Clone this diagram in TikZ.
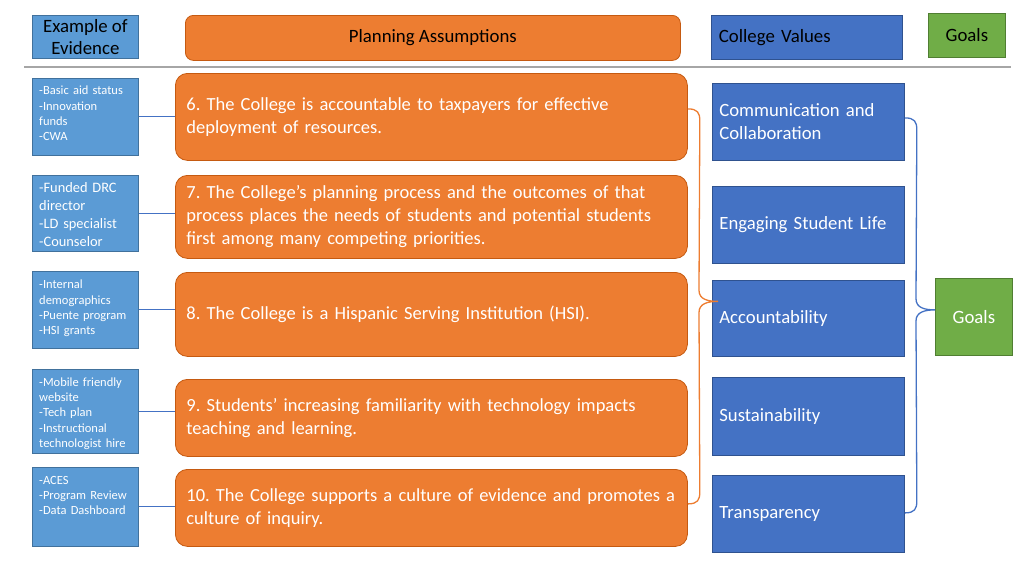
\documentclass[tikz,border=0pt]{standalone}
\usepackage{fontspec}
\setmainfont{Carlito}
\usetikzlibrary{calc}
\frenchspacing
\definecolor{evblue}{HTML}{5B9BD5}
\definecolor{evborder}{HTML}{41719C}
\definecolor{orfill}{HTML}{ED7D31}
\definecolor{orborder}{HTML}{C55A11}
\definecolor{vblue}{HTML}{4472C4}
\definecolor{vborder}{HTML}{2F528F}
\definecolor{gfill}{HTML}{70AD47}
\definecolor{gborder}{HTML}{507E32}
\definecolor{sepgray}{HTML}{A6A6A6}
\tikzset{
  evbox/.style={draw=evborder, fill=evblue, line width=0.8pt, anchor=north west, minimum width=106pt, inner sep=0pt},
  evtext/.style={anchor=north west, text=white, inner sep=0pt, align=left, text width=100pt, font=\fontsize{12.5}{15.3}\selectfont},
  evtextbig/.style={evtext, font=\fontsize{14.4}{18}\selectfont},
  orbox/.style={draw=orborder, fill=orfill, line width=0.8pt, rounded corners=12pt, anchor=north west, minimum width=512pt, text width=490pt, inner xsep=11pt, align=left, text=white, font=\fontsize{18.5}{23}\selectfont},
  valbox/.style={draw=vborder, fill=vblue, line width=0.8pt, anchor=north west, minimum width=192pt, minimum height=77pt, text width=178pt, inner xsep=7pt, align=left, text=white, font=\fontsize{18.7}{23}\selectfont},
  hdr/.style={line width=0.8pt, anchor=north west, text=black, font=\fontsize{18.8}{22}\selectfont},
  conn/.style={draw=vblue, line width=1.1pt},
  obrace/.style={draw=orfill, line width=1.3pt},
  bbrace/.style={draw=vblue, line width=1.3pt},
}
\begin{document}
\begin{tikzpicture}[x=1pt,y=-1pt]
\useasboundingbox (0,0) rectangle (1024,576);

% headers
\node[hdr, draw=evborder, fill=evblue, minimum width=106pt, minimum height=43pt, align=center, inner sep=0pt] (exh) at (32,15) {Example of\\Evidence};
\node[hdr, draw=orborder, fill=orfill, rounded corners=8pt, minimum width=495pt, minimum height=45pt] (pah) at (185,15) {\raisebox{-2pt}{Planning Assumptions}};
\node[hdr, draw=vborder, fill=vblue, minimum width=191pt, minimum height=44pt, text width=176pt, inner xsep=7.5pt, align=left] (cvh) at (711,15) {\raisebox{-2pt}{College Values}};
\node[hdr, draw=gborder, fill=gfill, minimum width=77pt, minimum height=44pt] (gh) at (928,13) {\raisebox{-1pt}{Goals}};

% separator
\coordinate (sepL) at (24,67);
\coordinate (sepR) at (1011,67);
\draw[sepgray, line width=1.4pt] (sepL) -- (sepR);

% evidence boxes
\node[evbox, minimum height=77pt] (ev1) at (32,78) {};
\node[evtext] (ev1t) at ($(ev1.north west)+(7,8)$) {-Basic aid status\\-Innovation\\funds\\-CWA};
\node[evbox, minimum height=76pt] (ev2) at (32,175) {};
\node[evtextbig] (ev2t) at ($(ev2.north west)+(7,7)$) {-Funded DRC\\director\\-LD specialist\\-Counselor};
\node[evbox, minimum height=77pt] (ev3) at (32,271) {};
\node[evtext] (ev3t) at ($(ev3.north west)+(7,9)$) {-Internal\\demographics\\-Puente program\\-HSI grants};
\node[evbox, minimum height=84pt] (ev4) at (32,369) {};
\node[evtext] (ev4t) at ($(ev4.north west)+(7,8.5)$) {-Mobile friendly\\website\\-Tech plan\\-Instructional\\technologist hire};
\node[evbox, minimum height=79pt] (ev5) at (32,467) {};
\node[evtext] (ev5t) at ($(ev5.north west)+(7,9)$) {-ACES\\-Program Review\\-Data Dashboard};

% planning assumptions
\node[orbox, minimum height=87pt] (o6) at (175,73) {6. The College is accountable to taxpayers for effective\\deployment of resources.};
\node[orbox, minimum height=83pt] (o7) at (175,175) {7. The College’s planning process and the outcomes of that\\process places the needs of students and potential students\\first among many competing priorities.};
\node[orbox, minimum height=84pt] (o8) at (175,272) {8. The College is a Hispanic Serving Institution (HSI).};
\node[orbox, minimum height=77pt] (o9) at (175,379) {9. Students’ increasing familiarity with technology impacts\\teaching and learning.};
\node[orbox, minimum height=77pt] (o10) at (175,469) {10. The College supports a culture of evidence and promotes a\\culture of inquiry.};

% connectors evidence -> assumptions
\draw[conn] (ev1.east) -- (ev1.east -| o6.west);
\draw[conn] (ev2.east) -- (ev2.east -| o7.west);
\draw[conn] (ev3.east) -- (ev3.east -| o8.west);
\draw[conn] (ev4.east) -- (ev4.east -| o9.west);
\draw[conn] (ev5.east) -- (ev5.east -| o10.west);

% college values
\node[valbox] (comm) at (712,83) {Communication and\\Collaboration};
\node[valbox] (eng) at (712,186) {Engaging Student Life};
\node[valbox, minimum height=76pt] (acc) at (712,280) {Accountability};
\node[valbox, minimum height=78pt] (sus) at (712,377) {Sustainability};
\node[valbox] (trans) at (712,475) {Transparency};

% goals
\node[draw=gborder, fill=gfill, line width=0.8pt, anchor=north west, minimum width=77pt, minimum height=77pt, text=white, font=\fontsize{18.8}{23}\selectfont] (goals) at (935,278) {Goals};

% orange brace
\coordinate (oa) at ($(o6.east)+(0,-8)$);
\coordinate (ob) at ($(o10.east)+(0,-4)$);
\coordinate (ot) at ($(acc.west)+(6,-17)$);
\draw[obrace] (oa) .. controls +(10,0) and +(0,-8) .. ($(oa)+(12,12)$) -- ($(ot)+(-19,-11)$) .. controls +(0,9) and +(-10,0) .. (ot) .. controls +(-10,0) and +(0,-9) .. ($(ot)+(-19,11)$) -- ($(ob)+(12,-12)$) .. controls +(0,8) and +(10,0) .. (ob);

% blue brace
\coordinate (ba) at ($(comm.east)+(0,-4)$);
\coordinate (bb) at ($(trans.east)+(0,-1)$);
\coordinate (bt) at ($(goals.west)+(0,-7)$);
\draw[bbrace] (ba) .. controls +(10,0) and +(0,-8) .. ($(ba)+(12,12)$) -- ($(bt)+(-19,-11)$) .. controls +(0,9) and +(-10,0) .. (bt) .. controls +(-10,0) and +(0,-9) .. ($(bt)+(-19,11)$) -- ($(bb)+(12,-12)$) .. controls +(0,8) and +(10,0) .. (bb);
\end{tikzpicture}
\end{document}
